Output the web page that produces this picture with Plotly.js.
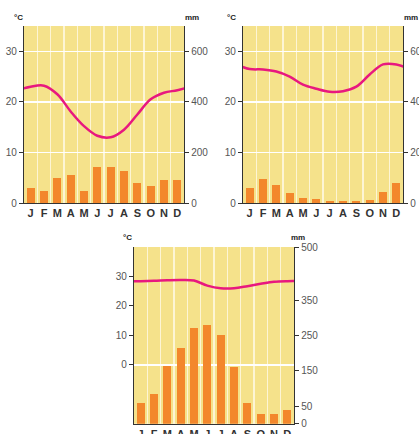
<!DOCTYPE html>
<html>
<head>
<meta charset="utf-8">
<script src="https://cdn.plot.ly/plotly-3.0.1.min.js"></script>
<style>
html,body{margin:0;padding:0;background:#fff;}
#chart{width:419px;height:434px;}
</style>
</head>
<body>
<div id="chart"></div>
<script>
// Month labels
const months = ['J','F','M','A','M','J','J','A','S','O','N','D'];

// Chart 1 (top left)
const temp1 = [23.0, 23.2, 21.5, 18.1, 15.2, 13.3, 13.0, 14.5, 17.5, 20.5, 21.8, 22.3];
const prec1 = [60, 48, 99, 112, 48, 143, 143, 127, 79, 67, 91, 91];

// Chart 2 (top right)
const temp2 = [26.5, 26.4, 26.0, 25.0, 23.4, 22.6, 22.0, 22.1, 23.0, 25.4, 27.4, 27.4];
const prec2 = [60, 95, 72, 40, 20, 16, 8, 8, 8, 12, 44, 80];

// Chart 3 (bottom)
const temp3 = [28.4, 28.5, 28.7, 28.8, 28.6, 26.9, 26.0, 26.0, 26.7, 27.5, 28.2, 28.4];
const prec3 = [60, 85, 164, 215, 271, 280, 251, 161, 60, 28, 28, 40];

// Axis ticks
const tempTicks12 = [0, 10, 20, 30];
const precTicks12 = [0, 200, 400, 600];
const tempTicks3 = [0, 10, 20, 30];
const precTicks3 = [0, 50, 150, 250, 350, 500];

const W = 419, H = 434;
const idx = months.map((_, i) => i);
const wrapX = [-1, ...idx, 12];
const wrap = t => [t[t.length - 1], ...t, t[0]];

const YELLOW = '#f5e28b';
const ORANGE = '#f3872c';
const MAGENTA = '#e8187f';

function px(a, b) { return [a / W, b / W]; }
function py(top, bottom) { return [1 - bottom / H, 1 - top / H]; }

const traces = [];
function addChart(n, temp, prec) {
  const xa = n === 1 ? 'x' : 'x' + n;
  const yMm = 'y' + (n === 1 ? '' : (2 * n - 1));
  const yC = 'y' + (2 * n);
  traces.push({
    type: 'bar', x: idx, y: prec, xaxis: xa, yaxis: yMm,
    marker: {color: ORANGE}, width: 0.6, hoverinfo: 'skip'
  });
  traces.push({
    type: 'scatter', mode: 'lines', x: wrapX, y: wrap(temp), xaxis: xa, yaxis: yC,
    line: {color: MAGENTA, width: 2.5, shape: 'spline', smoothing: 1}, hoverinfo: 'skip'
  });
}
addChart(1, temp1, prec1);
addChart(2, temp2, prec2);
addChart(3, temp3, prec3);

const tickFont = {family: 'Liberation Sans, Arial, sans-serif', size: 10, color: '#555'};
const monthFont = {family: 'Liberation Sans, Arial, sans-serif', size: 11, color: '#333', weight: 'bold'};

function xAxis(domain, yanchor) {
  return {
    domain: domain, anchor: yanchor, range: [-0.5, 11.5], fixedrange: true,
    tickmode: 'array', tickvals: idx, ticktext: months, tickfont: monthFont,
    ticks: '', showgrid: false, zeroline: false,
    showline: true, linecolor: '#333', linewidth: 1.2,
    minor: {tickmode: 'array', tickvals: idx.slice(0, 11).map(i => i + 0.5),
            showgrid: true, gridcolor: '#fdf5d5', gridwidth: 1.5, ticks: ''}
  };
}
function mmAxis(domain, xanchor, range, ticks) {
  return {
    domain: domain, anchor: xanchor, side: 'right', range: range, fixedrange: true,
    tickmode: 'array', tickvals: ticks, tickfont: tickFont,
    ticks: 'outside', ticklen: 4, tickcolor: '#333', tickwidth: 1,
    showline: true, linecolor: '#333', linewidth: 1.2,
    showgrid: false, zeroline: false
  };
}
function cAxis(domain, xanchor, overlay, range, ticks, grid) {
  return {
    domain: domain, anchor: xanchor, overlaying: overlay, side: 'left', range: range, fixedrange: true,
    tickmode: 'array', tickvals: ticks, tickfont: tickFont,
    ticks: 'outside', ticklen: 4, tickcolor: '#333', tickwidth: 1,
    showline: true, linecolor: '#333', linewidth: 1.2,
    showgrid: grid, gridcolor: '#ffffff', gridwidth: 1.5,
    zeroline: !grid, zerolinecolor: '#ffffff', zerolinewidth: 1.5
  };
}

const d1x = px(24, 184), d2x = px(243, 403), d3x = px(134, 294);
const dTop = py(26, 203), dBot = py(247, 423.7);

const annFont = {family: 'Liberation Sans, Arial, sans-serif', size: 8, color: '#222', weight: 'bold'};
function ann(text, x, y) {
  return {text: text, x: x / W, y: 1 - y / H, xref: 'paper', yref: 'paper',
          showarrow: false, font: annFont, xanchor: 'center', yanchor: 'middle'};
}

const layout = {
  width: W, height: H,
  margin: {l: 0, r: 0, t: 0, b: 0},
  paper_bgcolor: '#ffffff', plot_bgcolor: YELLOW,
  showlegend: false, bargap: 0,
  xaxis: xAxis(d1x, 'y'),
  yaxis: mmAxis(dTop, 'x', [0, 700], precTicks12),
  yaxis2: cAxis(dTop, 'x', 'y', [0, 35], tempTicks12, true),
  xaxis2: xAxis(d2x, 'y3'),
  yaxis3: mmAxis(dTop, 'x2', [0, 700], precTicks12),
  yaxis4: cAxis(dTop, 'x2', 'y3', [0, 35], tempTicks12, true),
  xaxis3: xAxis(d3x, 'y5'),
  yaxis5: mmAxis(dBot, 'x3', [0, 500], precTicks3),
  yaxis6: cAxis(dBot, 'x3', 'y5', [-20, 40], tempTicks3, false),
  annotations: [
    ann('°C', 18, 17), ann('mm', 192, 17),
    ann('°C', 231, 17), ann('mm', 411, 17),
    ann('°C', 127, 237), ann('mm', 298, 238)
  ]
};

Plotly.newPlot('chart', traces, layout, {staticPlot: true, displayModeBar: false});
</script>
</body>
</html>
